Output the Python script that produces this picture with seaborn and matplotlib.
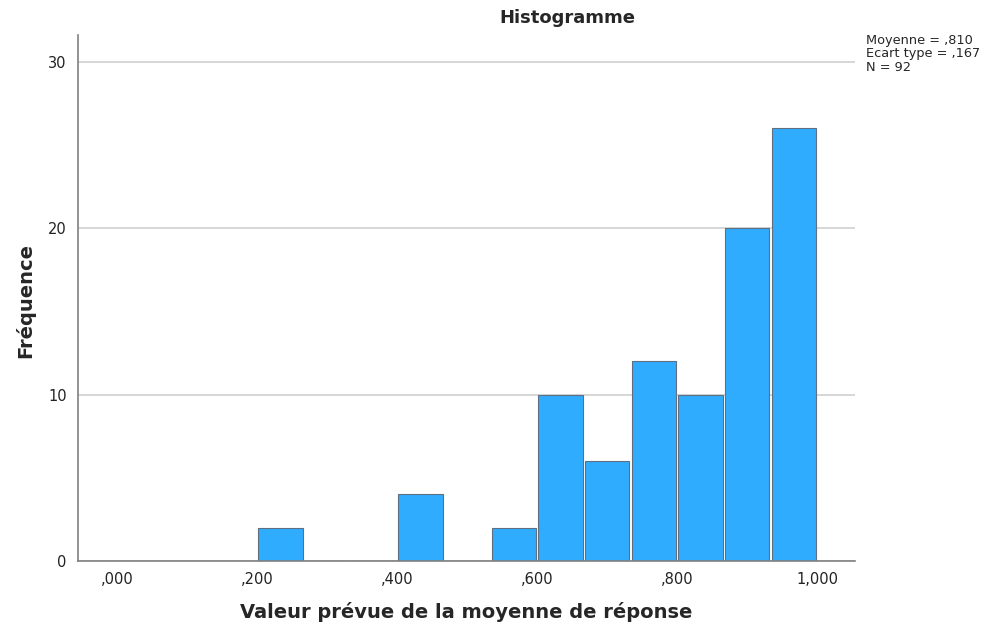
import numpy as np
import pandas as pd
import matplotlib
matplotlib.use("Agg")
import matplotlib.pyplot as plt
import seaborn as sns

# ------------------------------
# Data
# ------------------------------
bin_edges = [0.2, 0.2667, 0.3333, 0.4, 0.4667, 0.5333, 0.6,
             0.6667, 0.7333, 0.8, 0.8667, 0.9333, 1.0]
counts = [2, 0, 0, 4, 0, 2, 10, 6, 12, 10, 20, 26]
x_ticks = [0.0, 0.2, 0.4, 0.6, 0.8, 1.0]
x_tick_labels = [",000", ",200", ",400", ",600", ",800", "1,000"]
y_ticks = [0, 10, 20, 30]
stats_text = "Moyenne = ,810\nEcart type = ,167\nN = 92"

edges = np.array(bin_edges)
df = pd.DataFrame({
    "value": (edges[:-1] + edges[1:]) / 2,
    "count": counts,
})

sns.set_style("white")
plt.rcParams["font.family"] = ["DejaVu Sans"]

fig = plt.figure(figsize=(9.93, 6.27), dpi=100)
ax = fig.add_axes([0.0785, 0.1053, 0.7825, 0.8387])

sns.histplot(
    data=df, x="value", weights="count", bins=bin_edges, ax=ax,
    color="#30acff", alpha=1.0, edgecolor="#5f6f80", linewidth=0.8,
    shrink=0.95,
)

ax.set_xlim(-0.056, 1.054)
ax.set_ylim(0, 31.6)
ax.set_xticks(x_ticks)
ax.set_xticklabels(x_tick_labels, fontsize=10.5, color="#222222")
ax.set_yticks(y_ticks)
ax.set_yticklabels([str(v) for v in y_ticks], fontsize=10.5, color="#222222")
ax.tick_params(axis="both", length=0, pad=8)
ax.yaxis.grid(True, color="#d0d0d0", linewidth=1.2)
ax.set_axisbelow(True)

for side in ["top", "right"]:
    ax.spines[side].set_visible(False)
for side in ["left", "bottom"]:
    ax.spines[side].set_color("#808080")
    ax.spines[side].set_linewidth(1.2)

ax.set_xlabel("")
ax.set_ylabel("")
fig.text(0.469, 0.024, "Valeur prévue de la moyenne de réponse",
         ha="center", va="center", fontsize=14, fontweight="bold")
fig.text(0.025, 0.52, "Fréquence", rotation=90, ha="center", va="center",
         fontsize=14, fontweight="bold")
fig.text(0.571, 0.971, "Histogramme", ha="center", va="center",
         fontsize=13, fontweight="bold")
fig.text(0.872, 0.946, stats_text, ha="left", va="top", fontsize=9.3,
         linespacing=1.05)

fig.savefig("out.png", dpi=100)
